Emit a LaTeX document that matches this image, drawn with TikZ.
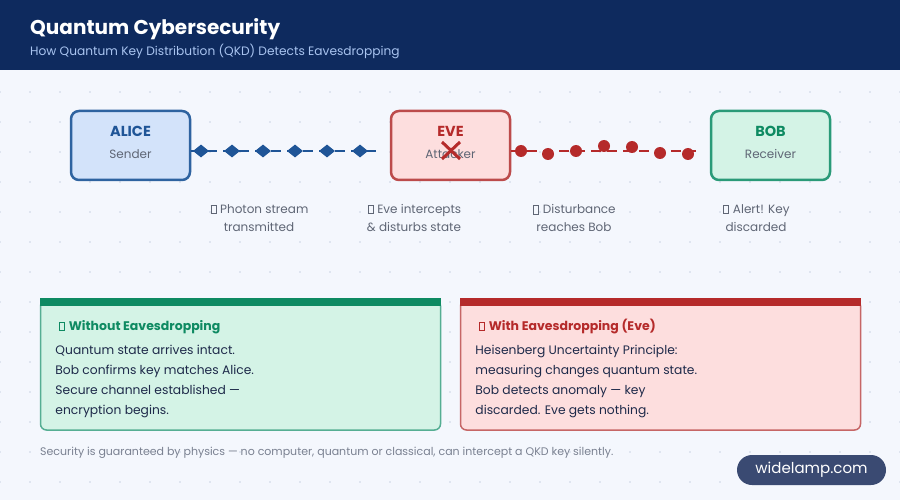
\documentclass[tikz,border=0pt]{standalone}
\usepackage{fontspec}
\setmainfont{Poppins}
\usetikzlibrary{shapes.geometric, positioning}

\definecolor{navy}{HTML}{0E2A5E}
\definecolor{subblue}{HTML}{A9C4F0}
\definecolor{bgpage}{HTML}{F4F7FD}
\definecolor{dotgray}{HTML}{CBD3E3}
\definecolor{aliceline}{HTML}{2E63A0}
\definecolor{alicefill}{HTML}{D3E3FA}
\definecolor{alicetext}{HTML}{1F5597}
\definecolor{eveline}{HTML}{BC4B4B}
\definecolor{evefill}{HTML}{FDDEDE}
\definecolor{evetext}{HTML}{B52A2A}
\definecolor{bobline}{HTML}{2A9A78}
\definecolor{bobfill}{HTML}{D4F3E6}
\definecolor{bobtext}{HTML}{0E8A62}
\definecolor{labelgray}{HTML}{5F6675}
\definecolor{footgray}{HTML}{7A8191}
\definecolor{bodytext}{HTML}{1E2A4A}
\definecolor{badgefill}{HTML}{3A4A72}

\newcommand{\tofu}{{\setlength{\fboxsep}{0pt}\setlength{\fboxrule}{0.5pt}\hspace{1pt}\fbox{\rule{0pt}{8pt}\hspace{4.5pt}}\hspace{4pt}}}
\newcommand{\dropstrut}{\rule[-6pt]{0pt}{6pt}}

\tikzstyle{party} = [rectangle, rounded corners=8pt, minimum width=119pt, minimum height=69pt, line width=2.5pt, align=center, inner sep=0pt]
\tikzstyle{stepnote} = [align=center, text=labelgray, font=\fontsize{12}{18}\selectfont]
\tikzstyle{bluephoton} = [diamond, fill=alicetext, minimum width=16pt, minimum height=13pt, inner sep=0pt]
\tikzstyle{redphoton} = [circle, fill=evetext, minimum size=12pt, inner sep=0pt]
\tikzstyle{beam} = [line width=2.5pt, dash pattern=on 10pt off 6pt]
\tikzstyle{panel} = [rectangle, rounded corners=6pt, minimum width=400pt, minimum height=130pt, line width=1.5pt]
\tikzstyle{panelhead} = [anchor=base west, font=\fontsize{12.5}{15}\selectfont\bfseries]
\tikzstyle{bodyline} = [anchor=base west, text=bodytext, font=\fontsize{12.3}{15}\selectfont, inner sep=0pt]

\begin{document}
\begin{tikzpicture}[x=1pt, y=-1pt, node distance=320pt]

    % Fond
    \useasboundingbox (0,0) rectangle (900,500);
    \fill[bgpage] (0,0) rectangle (900,500);
    \foreach \i in {0,...,30}
        \foreach \j in {3,...,16}
            \fill[dotgray] (30*\i, 30*\j+2) circle (0.9pt);
    \fill[navy] (0,0) rectangle (900,70);
    \node (title) [anchor=base west, inner sep=0pt, text=white, font=\fontsize{20}{24}\selectfont\bfseries] at (30,35) {Quantum Cybersecurity};
    \node (subtitle) [anchor=base west, inner sep=0pt, text=subblue, font=\fontsize{12.2}{15}\selectfont] at (30,56) {How Quantum Key Distribution (QKD) Detects Eavesdropping};

    % Nodes
    \node (alice) [party, draw=aliceline, fill=alicefill] at (130.5,145.5) {\textcolor{alicetext}{\fontsize{14.5}{16}\selectfont\bfseries ALICE}\\[10pt]\textcolor{labelgray}{\fontsize{12}{14}\selectfont Sender}\dropstrut};
    \node (eve) [party, draw=eveline, fill=evefill, right of=alice] {\textcolor{evetext}{\fontsize{14.5}{16}\selectfont\bfseries EVE}\\[10pt]\textcolor{labelgray}{\fontsize{12}{14}\selectfont Attacker}\dropstrut};
    \node (bob) [party, draw=bobline, fill=bobfill, right of=eve] {\textcolor{bobtext}{\fontsize{14.5}{16}\selectfont\bfseries BOB}\\[10pt]\textcolor{labelgray}{\fontsize{12}{14}\selectfont Receiver}\dropstrut};
    \draw[evetext, line width=3pt] ([shift={(-8.5pt,3.5pt)}]eve.center) -- ([shift={(9.5pt,-13.5pt)}]eve.center);
    \draw[evetext, line width=3pt] ([shift={(9.5pt,3.5pt)}]eve.center) -- ([shift={(-8.5pt,-13.5pt)}]eve.center);

    % Photons
    \draw[beam, alicetext] ([yshift=-5.5pt]alice.east) -- ([shift={(-14pt,-5.5pt)}]eve.west);
    \foreach \x [count=\i] in {201,232,263,295,327,360}
        \node (photon\i) [bluephoton] at (\x,151) {};
    \draw[beam, evetext] ([yshift=-5.5pt]eve.east) -- ([shift={(-14pt,-5.5pt)}]bob.west);
    \foreach \x/\y [count=\i] in {521/151,548/154,576/151,604/146,632/147,660/153,688/154}
        \node (hit\i) [redphoton] at (\x,\y) {};

    % Steps
    \node (send) [stepnote] at (259,218) {\tofu Photon stream\\transmitted};
    \node (intercept) [stepnote] at (414,218) {\tofu Eve intercepts\\\& disturbs state};
    \node (disturb) [stepnote] at (574,218) {\tofu Disturbance\\reaches Bob};
    \node (alert) [stepnote] at (756,218) {\tofu Alert! Key\\discarded};

    % Panels
    \node (calm) [panel, draw=bobline!80, fill=bobfill] at (240.5,365) {};
    \fill[bobtext] ([yshift=1pt]calm.north west) rectangle ([yshift=-6.5pt]calm.north east);
    \node (calmhead) [panelhead, text=bobtext] at ([shift={(15pt,-31pt)}]calm.north west) {\tofu Without Eavesdropping};
    \foreach \line [count=\i] in {Quantum state arrives intact., Bob confirms key matches Alice., Secure channel established —, encryption begins.}
        \node (calmline\i) [bodyline] at ([shift={(15.5pt,{-55pt-20pt*(\i-1)})}]calm.north west) {\line};

    \node (attack) [panel, draw=eveline!85, fill=evefill] at (660.5,365) {};
    \fill[evetext] ([yshift=1pt]attack.north west) rectangle ([yshift=-6.5pt]attack.north east);
    \node (attackhead) [panelhead, text=evetext] at ([shift={(15pt,-31pt)}]attack.north west) {\tofu With Eavesdropping (Eve)};
    \foreach \line [count=\i] in {Heisenberg Uncertainty Principle:, measuring changes quantum state., Bob detects anomaly — key, discarded. Eve gets nothing.}
        \node (attackline\i) [bodyline] at ([shift={(15.5pt,{-55pt-20pt*(\i-1)})}]attack.north west) {\line};

    % Footer
    \node (footnote) [anchor=base west, inner sep=0pt, text=footgray, font=\fontsize{11}{13}\selectfont] at (40,455) {Security is guaranteed by physics — no computer, quantum or classical, can intercept a QKD key silently.};
    \node (badge) [rectangle, rounded corners=15pt, minimum width=149pt, minimum height=30pt, fill=badgefill, text=white, font=\fontsize{15}{18}\selectfont] at (811.5,470) {widelamp.com};

\end{tikzpicture}
\end{document}
